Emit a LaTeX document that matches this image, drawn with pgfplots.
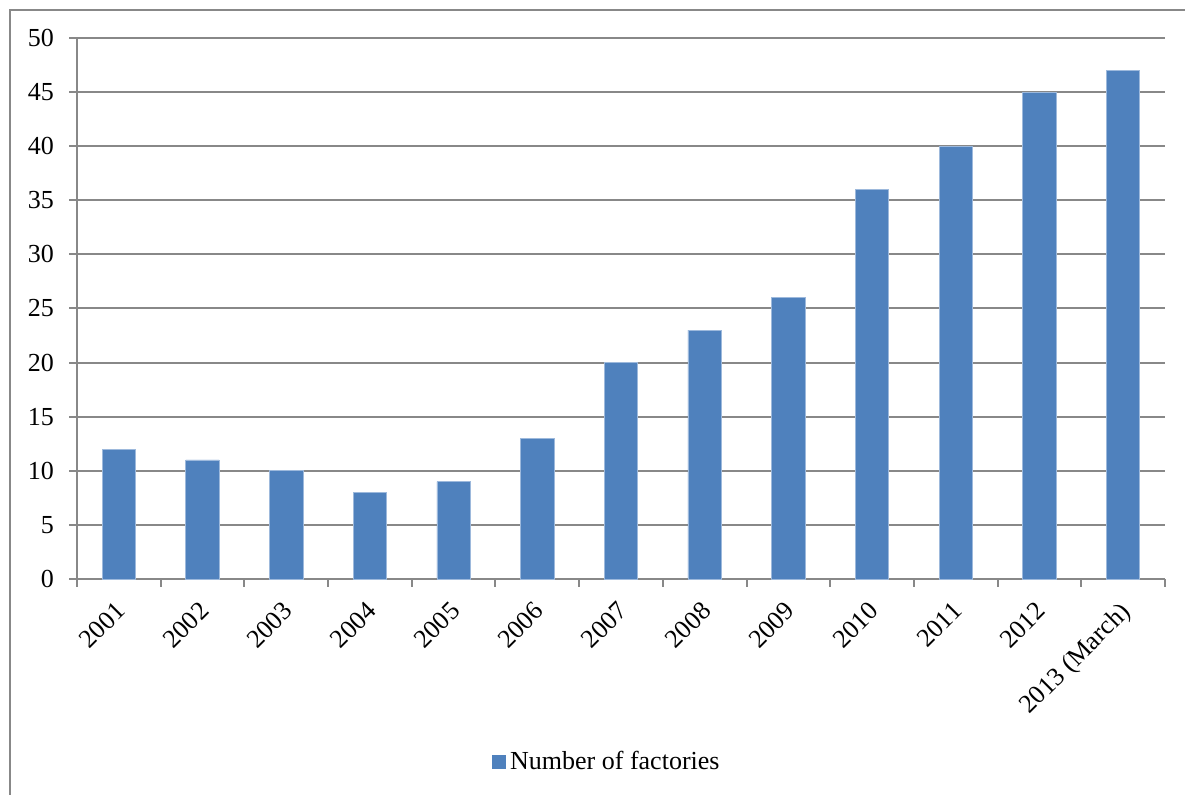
\documentclass[border=0pt]{standalone}
\usepackage{pgfplots}
\pgfplotsset{compat=1.18}
\usepackage{fontspec}
\setmainfont{Liberation Serif}

\definecolor{barblue}{HTML}{4F81BD}
\definecolor{baredge}{HTML}{9DB9DC}
\definecolor{axisgray}{HTML}{888888}

\newcommand{\chartfont}{\fontsize{13}{15.6}\selectfont}

\begin{document}
\begin{tikzpicture}
  % outer chart frame (left and top edges)
  \draw[axisgray, line width=1pt] (5pt,0pt) -- (5pt,392.5pt) -- (592.5pt,392.5pt);
  \begin{axis}[
    at={(38.5pt,108pt)}, anchor=south west,
    scale only axis,
    width=544pt, height=270.5pt,
    xmin=0.5, xmax=13.5,
    ymin=0, ymax=50,
    ytick={0,5,...,50},
    xtick={1,...,13},
    xticklabels={2001,2002,2003,2004,2005,2006,2007,2008,2009,2010,2011,2012,2013 (March)},
    minor xtick={0.5,1.5,...,13.5},
    major x tick style={draw=none},
    tick align=outside,
    major tick length=4pt,
    minor tick length=4pt,
    axis x line*=bottom,
    axis y line*=left,
    axis line style={axisgray, line width=1pt},
    every tick/.style={axisgray, line width=1pt},
    ymajorgrids,
    grid style={axisgray, line width=1pt},
    /pgf/number format/assume math mode=true,
    tick label style={font=\chartfont, text=black},
    xticklabel style={rotate=45, anchor=north east, inner sep=1pt, xshift=-5.2pt, yshift=-2pt},
    yticklabel style={xshift=-4pt},
    legend style={at={(0.488,-0.338)}, anchor=center, draw=none, font=\chartfont,
      legend cell align=left, inner sep=0pt},
    legend image code/.code={\fill[barblue] (0pt,-3.25pt) rectangle (6.5pt,3.25pt);},
    clip=false,
  ]
    \addplot[ybar, bar width=16.7pt, fill=barblue, draw=baredge, line width=0.4pt]
      coordinates {(1,12) (2,11) (3,10) (4,8) (5,9) (6,13) (7,20) (8,23) (9,26) (10,36) (11,40) (12,45) (13,47)};
    \addlegendentry{Number of factories}
  \end{axis}
  \pgfresetboundingbox
  \useasboundingbox (0pt,0pt) rectangle (592.5pt,397.5pt);
\end{tikzpicture}
\end{document}
